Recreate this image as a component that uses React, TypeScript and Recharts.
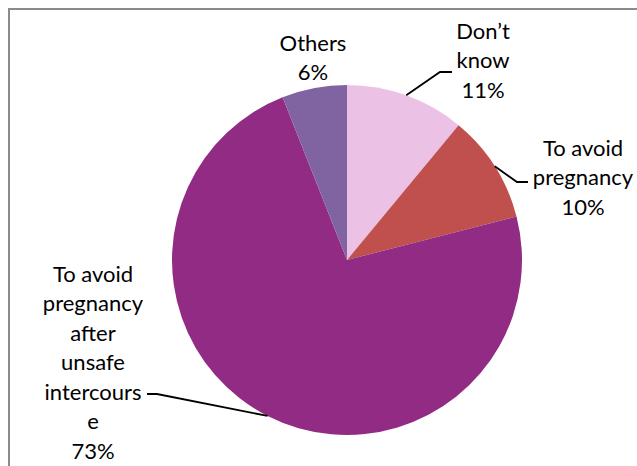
import { PieChart, Pie, Cell } from 'recharts';

const CATEGORIES = ["Don't know", 'To avoid pregnancy', 'To avoid pregnancy after unsafe intercourse', 'Others'];
const VALUES = [11, 10, 73, 6];
const LABEL_LINES = [
  ['Don’t', 'know'],
  ['To avoid', 'pregnancy'],
  ['To avoid', 'pregnancy', 'after', 'unsafe', 'intercours', 'e'],
  ['Others'],
];
const COLORS = ['#EBC1E6', '#C0504D', '#922B84', '#8064A2'];

// label placement, offsets from the pie centre
const LAYOUT = [
  { elbow: [93, -188], end: [105, -188], tx: 136, ty: -230 },
  { elbow: [170, -78], end: [181, -78], tx: 236, ty: -113 },
  { elbow: [-190, 134], end: [-200, 134], tx: -254, ty: 13 },
  { elbow: null, end: null, tx: -34, ty: -218 },
];

const RAD = Math.PI / 180;
const LINE_STEP = 29.5;

const data = CATEGORIES.map((name, i) => ({ name, value: VALUES[i] }));

function renderLabel(props: any) {
  const { cx, cy, midAngle, outerRadius, index, percent } = props;
  const lay = LAYOUT[index];
  const lines = [...LABEL_LINES[index], `${Math.round(percent * 100)}%`];
  const sx = cx + outerRadius * Math.cos(-midAngle * RAD);
  const sy = cy + outerRadius * Math.sin(-midAngle * RAD);
  return (
    <g key={`lbl-${index}`}>
      {lay.elbow && (
        <polyline
          points={`${sx},${sy} ${cx + lay.elbow[0]},${cy + lay.elbow[1]} ${cx + lay.end![0]},${cy + lay.end![1]}`}
          fill="none"
          stroke="#000"
          strokeWidth={1.8}
        />
      )}
      {lines.map((t, j) => (
        <text
          key={j}
          x={cx + lay.tx}
          y={cy + lay.ty + j * LINE_STEP}
          textAnchor="middle"
          dominantBaseline="central"
          fontFamily="Lato, 'Open Sans', sans-serif"
          fontSize={22}
          fill="#000"
        >
          {t}
        </text>
      ))}
    </g>
  );
}

export default function App() {
  return (
    <div style={{ position: 'relative', width: 637, height: 466, overflow: 'hidden', background: '#fff' }}>
      <style>{'body{margin:0}'}</style>
      <div
        style={{
          position: 'absolute',
          left: 8,
          top: 8,
          width: 700,
          height: 520,
          border: '2px solid #8a8a8a',
        }}
      />
      <div style={{ position: 'absolute', left: 0, top: 0 }}>
        <PieChart width={637} height={466} margin={{ top: 0, right: 0, bottom: 0, left: 0 }}>
          <Pie
            data={data}
            dataKey="value"
            nameKey="name"
            cx={347}
            cy={260}
            outerRadius={175}
            startAngle={90}
            endAngle={-270}
            stroke="none"
            label={renderLabel}
            labelLine={false}
            isAnimationActive={false}
          >
            {data.map((_, i) => (
              <Cell key={i} fill={COLORS[i]} />
            ))}
          </Pie>
        </PieChart>
      </div>
    </div>
  );
}
